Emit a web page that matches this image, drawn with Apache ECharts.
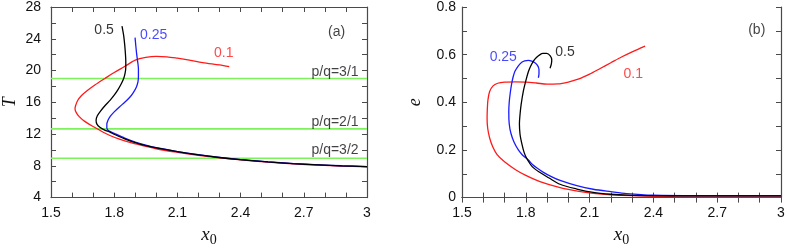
<!DOCTYPE html>
<html><head><meta charset="utf-8">
<script src="https://cdn.jsdelivr.net/npm/echarts@6/dist/echarts.min.js"></script>
<style>html,body{margin:0;padding:0;background:#fff}#c{width:789px;height:252px}</style>
</head><body><div id="c"></div>
<script>
// ---------- data ----------
const xTickLabels = ['1.5','1.8','2.1','2.4','2.7','3'];
const tTickLabels = ['4','8','12','16','20','24','28'];
const eTickLabels = ['0','0.2','0.4','0.6','0.8'];

// panel (a): T vs x0
const a05 = [[1.837,25.6],[1.845,24.4],[1.850,23.2],[1.853,22.2],[1.855,21.2],[1.855,20.4],[1.852,19.7],[1.845,19.0],[1.833,18.3],[1.818,17.6],[1.800,16.9],[1.780,16.25],[1.757,15.6],[1.735,14.9],[1.720,14.3],[1.714,13.75],[1.718,13.25],[1.732,12.85],[1.755,12.5],[1.780,12.25],[1.80,11.98],[1.85,11.40],[1.90,10.92],[1.95,10.55],[2.00,10.25],[2.10,9.78],[2.20,9.38],[2.30,9.05],[2.40,8.78],[2.53,8.50],[2.65,8.28],[2.77,8.12],[2.88,8.00],[3.00,7.90]];
const a025 = [[1.899,24.15],[1.903,23.0],[1.907,22.0],[1.912,21.0],[1.915,20.2],[1.915,19.3],[1.913,18.6],[1.905,17.9],[1.890,17.2],[1.873,16.6],[1.850,16.0],[1.826,15.45],[1.80,14.8],[1.782,14.25],[1.770,13.7],[1.765,13.2],[1.765,12.8],[1.772,12.45],[1.80,12.1],[1.85,11.5],[1.90,11.0],[1.95,10.6],[2.00,10.28],[2.10,9.8],[2.20,9.4],[2.30,9.06],[2.40,8.79],[2.53,8.51],[2.65,8.29],[2.77,8.13],[2.88,8.01],[3.00,7.91]];
const a01 = [[2.346,20.48],[2.30,20.7],[2.22,21.0],[2.15,21.35],[2.10,21.55],[2.05,21.72],[2.00,21.78],[1.95,21.65],[1.90,21.3],[1.849,20.5],[1.80,19.75],[1.756,19.0],[1.71,18.2],[1.671,17.45],[1.645,16.85],[1.626,16.2],[1.617,15.6],[1.614,15.2],[1.620,14.7],[1.634,14.2],[1.66,13.6],[1.70,12.95],[1.75,12.2],[1.80,11.6],[1.85,11.15],[1.90,10.78],[2.00,10.15],[2.10,9.7],[2.20,9.32],[2.30,9.0],[2.40,8.74],[2.53,8.47],[2.65,8.25],[2.77,8.09],[2.88,7.97],[3.00,7.87]];
const resonanceT = [19.0, 12.65, 8.95];
const resonanceNames = ['p/q=3/1','p/q=2/1','p/q=3/2'];

// panel (b): e vs x0
const b05 = [[1.914,0.543],[1.920,0.56],[1.922,0.578],[1.915,0.595],[1.898,0.605],[1.880,0.605],[1.867,0.600],[1.850,0.588],[1.835,0.572],[1.822,0.550],[1.812,0.528],[1.800,0.49],[1.788,0.445],[1.778,0.39],[1.773,0.35],[1.770,0.31],[1.773,0.265],[1.781,0.228],[1.792,0.19],[1.804,0.165],[1.83,0.13],[1.867,0.105],[1.91,0.082],[1.961,0.056],[2.04,0.036],[2.117,0.022],[2.20,0.014],[2.274,0.01],[2.40,0.008],[2.6,0.007],[2.8,0.007],[3.0,0.007]];
const b025 = [[1.859,0.503],[1.862,0.52],[1.862,0.538],[1.855,0.555],[1.843,0.566],[1.828,0.573],[1.812,0.576],[1.795,0.574],[1.781,0.568],[1.765,0.553],[1.749,0.53],[1.740,0.505],[1.733,0.475],[1.727,0.44],[1.722,0.40],[1.720,0.36],[1.722,0.31],[1.730,0.27],[1.745,0.232],[1.765,0.20],[1.785,0.178],[1.812,0.158],[1.83,0.14],[1.851,0.125],[1.883,0.106],[1.92,0.088],[1.961,0.072],[2.04,0.05],[2.117,0.035],[2.2,0.025],[2.274,0.017],[2.4,0.01],[2.6,0.008],[2.8,0.008],[3.0,0.008]];
const b01 = [[2.361,0.636],[2.30,0.612],[2.25,0.59],[2.20,0.566],[2.15,0.542],[2.10,0.518],[2.05,0.498],[2.00,0.485],[1.95,0.477],[1.90,0.476],[1.85,0.481],[1.80,0.485],[1.75,0.486],[1.70,0.485],[1.668,0.48],[1.645,0.468],[1.630,0.445],[1.622,0.41],[1.619,0.37],[1.618,0.33],[1.621,0.29],[1.630,0.25],[1.645,0.212],[1.665,0.18],[1.70,0.15],[1.75,0.118],[1.80,0.093],[1.87,0.066],[1.961,0.042],[2.05,0.026],[2.117,0.018],[2.20,0.012],[2.30,0.008],[2.50,0.004],[2.75,0.003],[3.0,0.003]];

const seriesNames = ['0.5','0.25','0.1'];

// ---------- styling / layout ----------
const C = {k:'#000000', b:'#1a1aff', r:'#ff1a1a', g:'#7ef25a', ax:'#4a4a4a'};
const FONT = 'Liberation Sans, Arial, sans-serif';
const SERIF = 'Liberation Serif, Times New Roman, serif';

function xLabel(v){ const i = Math.round((v-1.5)*10); return i%3===0 ? xTickLabels[i/3] : ''; }
function tLabel(v){ const i = Math.round(v-4); return i%4===0 ? tTickLabels[i/4] : ''; }
function eLabel(v){ const i = Math.round(v*10); return i%2===0 ? eTickLabels[i/2] : ''; }

const axLine = {lineStyle:{color:C.ax,width:1.2}};
const tick = {inside:true,length:5,lineStyle:{color:C.ax,width:1}};
const lbl = {color:'#111',fontSize:14,fontFamily:FONT};
const xName = {name:'{a|x}{b|0}', nameLocation:'middle', nameGap:25,
  nameTextStyle:{rich:{a:{fontFamily:SERIF,fontStyle:'italic',fontSize:19,color:'#111'},
                      b:{fontFamily:SERIF,fontSize:14,color:'#111',padding:[10,0,0,0]}}}};

function xAxes(gi){
  return [
    Object.assign({gridIndex:gi,type:'value',min:1.5,max:3,interval:0.1,position:'bottom',
      axisLine:axLine,axisTick:tick,splitLine:{show:false},
      axisLabel:Object.assign({margin:9,formatter:xLabel,showMinLabel:true,showMaxLabel:true},lbl)}, xName),
    {gridIndex:gi,type:'value',min:1.5,max:3,interval:0.1,position:'top',
      axisLine:axLine,axisTick:tick,splitLine:{show:false},axisLabel:{show:false}}
  ];
}
function yAxes(gi,min,max,iv,fmt,name,gap,margin){
  return [
    {gridIndex:gi,type:'value',min:min,max:max,interval:iv,position:'left',
      axisLine:axLine,axisTick:tick,splitLine:{show:false},
      axisLabel:Object.assign({margin:margin,formatter:fmt},lbl),
      name:name,nameLocation:'middle',nameGap:gap,
      nameTextStyle:{fontFamily:SERIF,fontStyle:'italic',fontSize:18,color:'#111'}},
    {gridIndex:gi,type:'value',min:min,max:max,interval:iv,position:'right',
      axisLine:axLine,axisTick:tick,splitLine:{show:false},axisLabel:{show:false}}
  ];
}

function curve(data,color,xi,yi){
  return {type:'line',data:data,xAxisIndex:xi,yAxisIndex:yi,showSymbol:false,symbol:'none',
    smooth:0.3,lineStyle:{color:color,width:1.3},silent:true,animation:false,z:3};
}
function text(str,pos,color,xi,yi,align){
  return {type:'scatter',xAxisIndex:xi,yAxisIndex:yi,symbolSize:0,silent:true,animation:false,z:5,
    data:[{value:pos,label:{show:true,position:'inside',formatter:str,color:color,fontSize:14,
      fontFamily:FONT,align:align||'center',verticalAlign:'middle'}}]};
}

const series = [];
// resonance lines
resonanceT.forEach((t,i)=>{
  series.push({type:'line',xAxisIndex:0,yAxisIndex:0,data:[[1.5,t],[3,t]],showSymbol:false,symbol:'none',
    lineStyle:{color:C.g,width:1.6},silent:true,animation:false,z:2});
});
const pqPos = [[2.96,19.75],[2.96,13.5],[2.96,9.95]];
resonanceNames.forEach((n,i)=>series.push(text(n,pqPos[i],'#111',0,0,'right')));

// panel a curves
series.push(curve(a01,C.r,0,0), curve(a025,C.b,0,0), curve(a05,C.k,0,0));
// panel b curves
series.push(curve(b01,C.r,2,2), curve(b025,C.b,2,2), curve(b05,C.k,2,2));

// annotations
series.push(text(seriesNames[0],[1.752,25.03],C.k,0,0));
series.push(text(seriesNames[1],[1.987,24.43],C.b,0,0));
series.push(text(seriesNames[2],[2.320,22.18],C.r,0,0));
series.push(text('(a)',[2.856,24.79],'#111',0,0));
series.push(text(seriesNames[0],[1.984,0.609],C.k,2,2));
series.push(text(seriesNames[1],[1.694,0.589],C.b,2,2));
series.push(text(seriesNames[2],[2.305,0.520],C.r,2,2));
series.push(text('(b)',[2.886,0.702],'#111',2,2));

const chart = echarts.init(document.getElementById('c'),null,{renderer:'canvas'});
chart.setOption({
  animation:false,
  backgroundColor:'#fff',
  grid:[{left:45,top:6,width:322,height:202},{left:462,top:6,width:319,height:202}],
  xAxis:[...xAxes(0),...xAxes(1)],
  yAxis:[...yAxes(0,4,28,2,tLabel,'T',32,10),...yAxes(1,0,0.8,0.1,eLabel,'e',38,6)],
  series:series
});
</script></body></html>
